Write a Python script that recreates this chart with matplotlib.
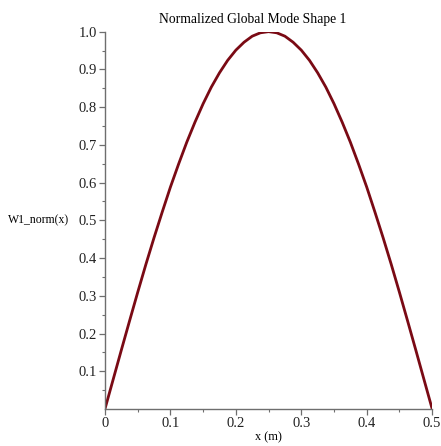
import matplotlib.pyplot as plt
import numpy as np

# mode shape, x in metres
x_m = [0.0, 0.0125, 0.025, 0.0375, 0.05, 0.0625, 0.075, 0.0875, 0.1, 0.1125,
       0.125, 0.1375, 0.15, 0.1625, 0.175, 0.1875, 0.2, 0.2125, 0.225, 0.2375,
       0.25, 0.2625, 0.275, 0.2875, 0.3, 0.3125, 0.325, 0.3375, 0.35, 0.3625,
       0.375, 0.3875, 0.4, 0.4125, 0.425, 0.4375, 0.45, 0.4625, 0.475, 0.4875,
       0.5]
w1_norm = [0.0, 0.078, 0.156, 0.233, 0.309, 0.383, 0.454, 0.522, 0.588, 0.649,
           0.707, 0.760, 0.809, 0.853, 0.891, 0.924, 0.951, 0.972, 0.988, 0.997,
           1.0, 0.997, 0.988, 0.972, 0.951, 0.924, 0.891, 0.853, 0.809, 0.760,
           0.707, 0.649, 0.588, 0.522, 0.454, 0.383, 0.309, 0.233, 0.156, 0.078,
           0.0]

x_ticks = [0, 0.1, 0.2, 0.3, 0.4, 0.5]
x_tick_labels = ["0", "0.1", "0.2", "0.3", "0.4", "0.5"]
y_ticks = [0.1, 0.2, 0.3, 0.4, 0.5, 0.6, 0.7, 0.8, 0.9, 1.0]

plt.rcParams["font.family"] = ["Liberation Serif", "DejaVu Serif"]

fig = plt.figure(figsize=(4.41, 4.46), dpi=100)
ax = fig.add_axes([0.238, 0.083, 0.742, 0.846])

ax.plot(x_m, w1_norm, color="#7a0a14", linewidth=2.0, solid_capstyle="butt")

ax.set_xlim(0, 0.5)
ax.set_ylim(0, 1.0)

ax.set_xticks(x_ticks)
ax.set_xticklabels(x_tick_labels)
ax.set_yticks(y_ticks)
ax.set_yticklabels([f"{v:.1f}" for v in y_ticks])
ax.set_xticks(np.arange(0.05, 0.5, 0.1), minor=True)
ax.set_yticks(np.arange(0.05, 1.0, 0.1), minor=True)

axis_gray = "#6e6e6e"
for side in ["top", "right"]:
    ax.spines[side].set_visible(False)
for side in ["left", "bottom"]:
    ax.spines[side].set_color(axis_gray)
    ax.spines[side].set_linewidth(1.0)

ax.tick_params(which="major", length=4, width=0.9, color=axis_gray,
               labelsize=10.5, labelcolor="#222222", pad=2)
ax.tick_params(which="minor", length=2.5, width=0.8, color=axis_gray)

ax.set_title("Normalized Global Mode Shape 1", fontsize=9.8, pad=6, x=0.45)
ax.set_xlabel("x (m)", fontsize=8.8, labelpad=1)
ax.set_ylabel("W1_norm(x)", fontsize=8.5, rotation=0, ha="right",
              va="center", labelpad=10)
ax.yaxis.set_label_coords(-0.11, 0.5)

fig.savefig("out.png", dpi=100)
